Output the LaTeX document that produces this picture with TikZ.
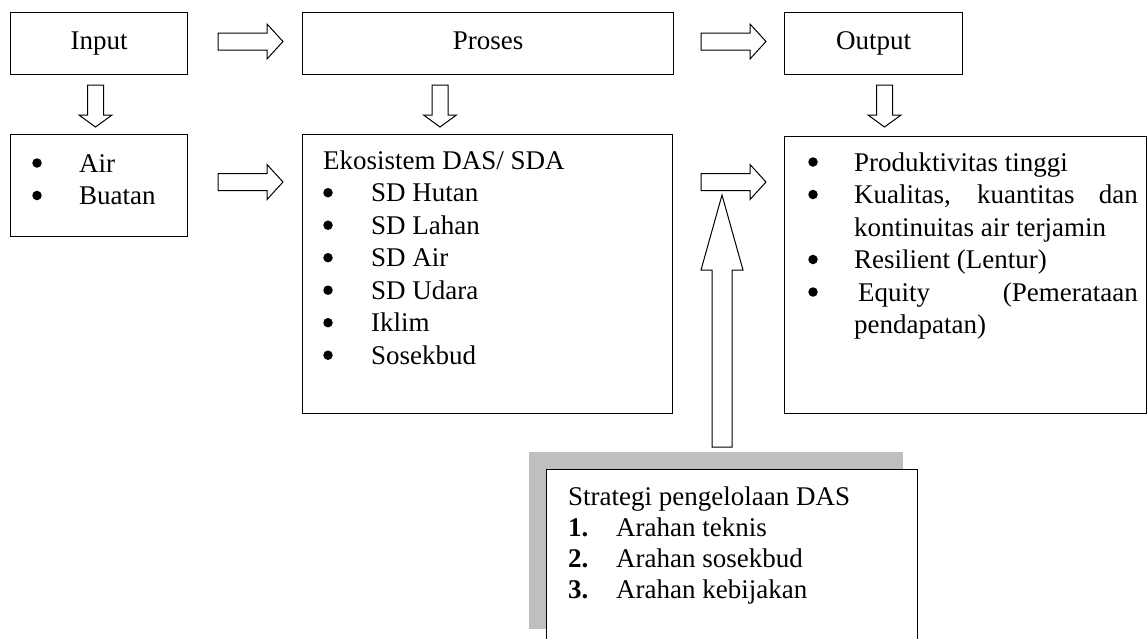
\documentclass[tikz,border=0pt]{standalone}
\usepackage{fontspec}
\setmainfont{Liberation Serif}
\begin{document}
\begin{tikzpicture}[x=1pt,y=-1pt,
  box/.style={draw, line width=1.3pt, fill=white, inner sep=0pt},
  blk/.style={draw, line width=1pt, fill=white, line join=miter},
  txt/.style={anchor=base west, inner sep=0pt, font=\fontsize{27}{32.5}\selectfont},
  txte/.style={anchor=base east, inner sep=0pt, font=\fontsize{27}{32.5}\selectfont},
  bul/.style={circle, fill=black, inner sep=0pt, minimum size=9.5pt},
  ttl/.style={font=\fontsize{27}{32.5}\selectfont, text height=18pt, text depth=6pt},
  rarr/.pic={\draw[blk] (0,-8.5) -- (49,-8.5) -- (49,-17.5) -- (65,0) -- (49,17.5) -- (49,8.5) -- (0,8.5) -- cycle;},
  darr/.pic={\draw[blk] (-8,0) -- (8,0) -- (8,30) -- (16.5,30) -- (0,42) -- (-16.5,30) -- (-8,30) -- cycle;}
]
\useasboundingbox (0,0) rectangle (1148,638);
\clip (0,0) rectangle (1148,638);

% top row
\node[box, ttl, minimum width=177pt, minimum height=62pt, anchor=north west] (input) at (10,12) {Input};
\node[box, ttl, minimum width=371pt, minimum height=62pt, anchor=north west] (proses) at (302,12) {Proses};
\node[box, ttl, minimum width=178pt, minimum height=62pt, anchor=north west] (output) at (784,12) {Output};

% second row boxes
\node[box, minimum width=177pt, minimum height=102pt, anchor=north west] (inlist) at (10,134) {};
\node[box, minimum width=370pt, minimum height=279pt, anchor=north west] (eko) at (302,134) {};
\node[box, minimum width=362pt, minimum height=277pt, anchor=north west] (outlist) at (784,136) {};

% strategy box with shadow
\fill[gray!50] (529,452) rectangle (903,629);
\node[box, minimum width=371pt, minimum height=176pt, anchor=north west] (strat) at (546,469) {};

% block arrows
\pic at (218,41.5) {rarr};
\pic at (701,41.5) {rarr};
\pic at (218,182) {rarr};
\pic at (701,182) {rarr};
\pic at (95.5,85) {darr};
\pic at (440,85) {darr};
\pic at (884.5,85) {darr};
\draw[blk] (712,447) -- (712,270) -- (701,270) -- (722,195) -- (743,270) -- (732,270) -- (732,447) -- cycle;

% input list
\node[bul] (b1) at (37,163) {};
\node[txt] (t1) at (79,172) {Air};
\node[bul] (b2) at (37,195.5) {};
\node[txt] (t2) at (79,204.5) {Buatan};

% ekosistem list
\node[txt] (e0) at (323,169.3) {Ekosistem DAS/ SDA};
\foreach \y/\t [count=\i] in {201.7/SD Hutan, 234.2/SD Lahan, 266.7/SD Air, 299.2/SD Udara, 331.7/Iklim, 364.2/Sosekbud}{
  \node[bul] (eb\i) at (328,\y-9) {};
  \node[txt] (et\i) at (371,\y) {\t};
}

% output list
\node[bul] (ob1) at (813,162) {};
\node[txt] (ot1) at (854,171) {Produktivitas tinggi};
\node[bul] (ob2) at (813,194.5) {};
\node[txt] (ot2a) at (854,203.5) {Kualitas,};
\node[txt] (ot2b) at (977,203.5) {kuantitas};
\node[txte] (ot2c) at (1138,203.5) {dan};
\node[txt] (ot3) at (854,236) {kontinuitas air terjamin};
\node[bul] (ob4) at (813,259.5) {};
\node[txt] (ot4) at (854,268.5) {Resilient (Lentur)};
\node[bul] (ob5) at (813,292) {};
\node[txt] (ot5a) at (858,301) {Equity};
\node[txte] (ot5b) at (1138,301) {(Pemerataan};
\node[txt] (ot6) at (854,333.5) {pendapatan)};

% strategy list
\node[txt] (s0) at (568,505) {Strategi pengelolaan DAS};
\foreach \y/\n/\t in {536/1/Arahan teknis, 567/2/Arahan sosekbud, 598/3/Arahan kebijakan}{
  \node[txt] (sn\n) at (568,\y) {\textbf{\n.}};
  \node[txt] (st\n) at (616,\y) {\t};
}
\end{tikzpicture}
\end{document}
